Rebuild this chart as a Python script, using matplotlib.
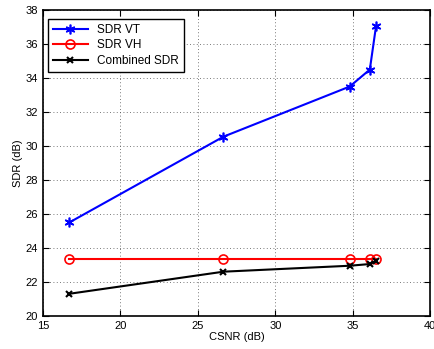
import matplotlib
matplotlib.use('Agg')
import matplotlib.pyplot as plt

csnr = [16.7, 26.65, 34.8, 36.1, 36.5]
sdr_vt = [25.5, 30.55, 33.5, 34.5, 37.05]
sdr_vh = [23.35, 23.35, 23.35, 23.35, 23.35]
sdr_comb = [21.3, 22.6, 22.95, 23.05, 23.25]

plt.rcParams['font.family'] = ['Liberation Sans', 'DejaVu Sans']
plt.rcParams['font.size'] = 8

fig = plt.figure(figsize=(4.35, 3.49), dpi=100)
ax = fig.add_axes([0.099, 0.095, 0.89, 0.876])

ax.plot(csnr, sdr_vt, color='blue', marker=(6, 2, 0), markersize=7, markeredgewidth=1.2, lw=1.5, label='SDR VT')
ax.plot(csnr, sdr_vh, color='red', marker='o', markersize=6.5, markerfacecolor='none', markeredgewidth=1.2, lw=1.5, label='SDR VH')
ax.plot(csnr, sdr_comb, color='black', marker='x', markersize=5, markeredgewidth=1.5, lw=1.5, label='Combined SDR')

ax.set_xlim(15, 40)
ax.set_ylim(20, 38)
ax.set_xticks(range(15, 41, 5))
ax.set_yticks(range(20, 39, 2))
ax.grid(True, linestyle=(0, (1, 3)), color='0.3', linewidth=0.6)
ax.tick_params(direction='in', length=4, top=True, right=True, width=0.8)
for s in ax.spines.values():
    s.set_linewidth(1.2)
ax.set_xlabel('CSNR (dB)', labelpad=1)
ax.set_ylabel('SDR (dB)', labelpad=2)

leg = ax.legend(loc='upper left', bbox_to_anchor=(-0.003, 0.99), fancybox=False, edgecolor='black',
                framealpha=1, handlelength=3.0, borderpad=0.4, labelspacing=0.3, fontsize=8.5)
leg.get_frame().set_linewidth(1.0)

fig.savefig('out.png', dpi=100)
